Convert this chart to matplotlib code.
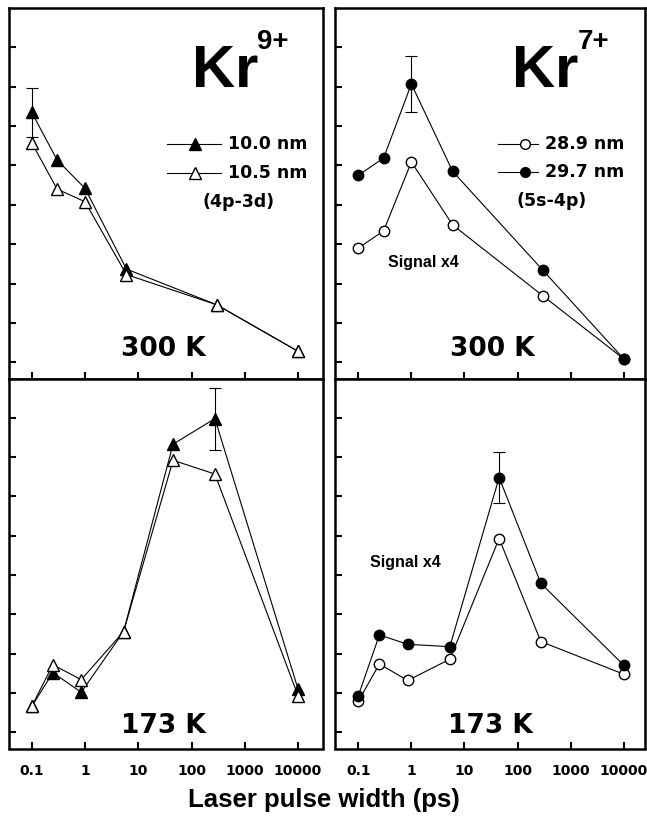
import matplotlib
matplotlib.use("Agg")
import matplotlib.pyplot as plt

# ---------------- data ----------------
x_top = [0.1, 0.3, 1, 6, 300, 10000]
x_bot = [0.1, 0.25, 0.85, 5.3, 45, 275, 10000]

kr9_300_100 = [6.35, 5.14, 4.42, 2.37, 1.46, 0.28]
kr9_300_105 = [5.58, 4.40, 4.08, 2.23, 1.46, 0.28]
kr9_300_err = [0.62, 0, 0, 0, 0, 0]

kr9_173_100 = [0.66, 1.52, 1.02, 2.56, 7.33, 7.98, 1.10]
kr9_173_105 = [0.66, 1.72, 1.34, 2.56, 6.92, 6.57, 0.93]
kr9_173_err = [0, 0, 0, 0, 0, 0.79, 0]

kr7_300_289 = [2.90, 3.34, 5.09, 3.49, 1.69, 0.09]
kr7_300_297 = [4.75, 5.19, 7.07, 4.85, 2.34, 0.09]
kr7_300_err = [0, 0, 0.70, 0, 0, 0]

kr7_173_289 = [0.79, 1.74, 1.32, 1.86, 4.93, 2.31, 1.48]
kr7_173_297 = [0.93, 2.48, 2.24, 2.18, 6.48, 3.79, 1.71]
kr7_173_err = [0, 0, 0, 0, 0.64, 0, 0]

xticks = [0.1, 1, 10, 100, 1000, 10000]
xticklabels = ["0.1", "1", "10", "100", "1000", "10000"]
yticks = [0, 1, 2, 3, 4, 5, 6, 7, 8]

legend_kr9 = ["10.0 nm", "10.5 nm"]
legend_kr7 = ["28.9 nm", "29.7 nm"]
temps = ["300 K", "173 K"]

# ---------------- figure ----------------
W, H = 647, 818
fig = plt.figure(figsize=(W / 100, H / 100), dpi=100)


def fx(x):
    return x / W


def fy(y):
    return 1 - y / H


def make_ax(l, r, t, b, xlim):
    ax = fig.add_axes([fx(l), fy(b), fx(r) - fx(l), fy(t) - fy(b)])
    ax.set_xscale("log")
    ax.set_xlim(*xlim)
    ax.set_ylim(-0.41, 9.0)
    ax.set_xticks(xticks)
    ax.minorticks_off()
    ax.set_yticks(yticks)
    ax.set_yticklabels([])
    ax.tick_params(axis="both", which="major", direction="in", length=5,
                   width=1.5, color="black")
    for s in ax.spines.values():
        s.set_linewidth(1.8)
    return ax


xlim_l = (0.0375, 29400)
xlim_r = (0.0364, 25200)
ax_tl = make_ax(9, 323, 8, 378.5, xlim_l)
ax_tr = make_ax(335, 645, 8, 378.5, xlim_r)
ax_bl = make_ax(9, 323, 378.5, 748.5, xlim_l)
ax_br = make_ax(335, 645, 378.5, 748.5, xlim_r)

for ax in (ax_tl, ax_tr):
    ax.set_xticklabels([])
for ax in (ax_bl, ax_br):
    ax.set_xticklabels(xticklabels, fontfamily="DejaVu Sans",
                       fontweight="bold", fontsize=10)
    ax.tick_params(axis="x", pad=11)

lw = 0.8
tri_ms = 9
circ_ms = 7.5


def errb(ax, x, y, e):
    xs = [a for a, b in zip(x, e) if b > 0]
    ys = [a for a, b in zip(y, e) if b > 0]
    es = [b for b in e if b > 0]
    ax.errorbar(xs, ys, yerr=es, fmt="none", ecolor="black",
                elinewidth=0.8, capsize=4.5, capthick=0.8, zorder=2)


# Kr9+ panels: filled triangles under open triangles
for ax, x, yf, yo, e in ((ax_tl, x_top, kr9_300_100, kr9_300_105, kr9_300_err),
                         (ax_bl, x_bot, kr9_173_100, kr9_173_105, kr9_173_err)):
    errb(ax, x, yf, e)
    ax.plot(x, yf, color="black", lw=lw, marker="^", ms=tri_ms,
            mfc="black", mec="black", zorder=3)
    ax.plot(x, yo, color="black", lw=lw, marker="^", ms=tri_ms,
            mfc="white", mec="black", mew=1.0, zorder=4)

# Kr7+ panels: open circles under filled circles
for ax, x, yo, yf, e in ((ax_tr, x_top, kr7_300_289, kr7_300_297, kr7_300_err),
                         (ax_br, x_bot, kr7_173_289, kr7_173_297, kr7_173_err)):
    errb(ax, x, yf, e)
    ax.plot(x, yo, color="black", lw=lw, marker="o", ms=circ_ms,
            mfc="white", mec="black", mew=1.0, zorder=3)
    ax.plot(x, yf, color="black", lw=lw, marker="o", ms=circ_ms,
            mfc="black", mec="black", zorder=4)

# ---------------- text ----------------
big = dict(fontfamily="Liberation Sans", fontweight="bold", color="black")
fig.text(fx(192), fy(87), "Kr", fontsize=43, ha="left", va="baseline", **big)
fig.text(fx(257), fy(49), "9+", fontsize=20, ha="left", va="baseline", **big)
fig.text(fx(512), fy(87), "Kr", fontsize=43, ha="left", va="baseline", **big)
fig.text(fx(578), fy(49), "7+", fontsize=20, ha="left", va="baseline", **big)

lab = dict(fontfamily="DejaVu Sans", fontweight="bold", color="black")
fig.text(fx(163), fy(356), temps[0], fontsize=19, ha="center", va="baseline", **lab)
fig.text(fx(492), fy(356), temps[0], fontsize=19, ha="center", va="baseline", **lab)
fig.text(fx(163), fy(733), temps[1], fontsize=19, ha="center", va="baseline", **lab)
fig.text(fx(490), fy(733), temps[1], fontsize=19, ha="center", va="baseline", **lab)


# legends drawn manually
def legend_row(x0, x1, xm, y, marker, ms, filled, label):
    fig.add_artist(plt.Line2D([fx(x0), fx(x1)], [fy(y), fy(y)], color="black",
                              lw=lw, transform=fig.transFigure))
    fig.add_artist(plt.Line2D([fx(xm)], [fy(y)], marker=marker, ms=ms,
                              mfc="black" if filled else "white", mec="black",
                              mew=1.0, transform=fig.transFigure))
    fig.text(fx(x1 + 7), fy(y), label, fontsize=12.5, ha="left", va="center", **lab)


legend_row(167, 221, 195, 144, "^", 8, True, legend_kr9[0])
legend_row(167, 221, 195, 173, "^", 8, False, legend_kr9[1])
fig.text(fx(202), fy(202), "(4p-3d)", fontsize=12.5, ha="left", va="center", **lab)

legend_row(498, 538, 525, 144, "o", 7, False, legend_kr7[0])
legend_row(498, 538, 525, 172, "o", 7, True, legend_kr7[1])
fig.text(fx(516), fy(201), "(5s-4p)", fontsize=12.5, ha="left", va="center", **lab)

sig = dict(fontfamily="Liberation Sans", fontweight="bold", color="black")
fig.text(fx(388), fy(263), "Signal x4", fontsize=11.5, ha="left", va="center", **sig)
fig.text(fx(370), fy(563), "Signal x4", fontsize=11.5, ha="left", va="center", **sig)

fig.text(fx(324), fy(800), "Laser pulse width (ps)", fontsize=18.5,
         ha="center", va="center", **big)

fig.savefig("out.png", dpi=100)
